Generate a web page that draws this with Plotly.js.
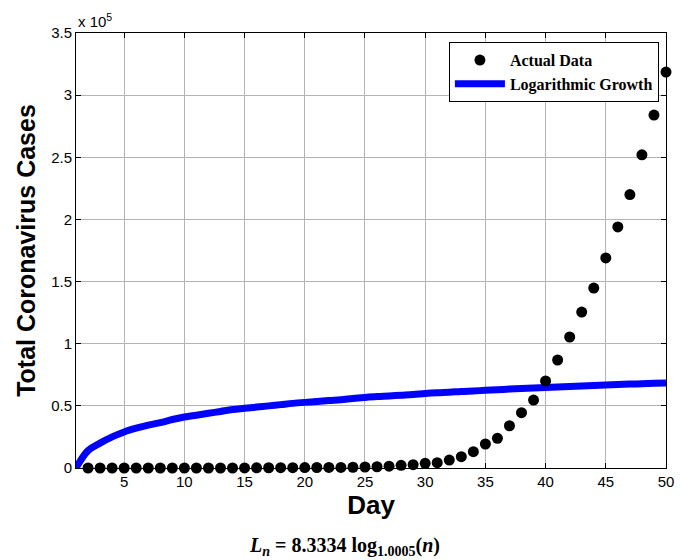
<!DOCTYPE html>
<html>
<head>
<meta charset="utf-8">
<script src="https://cdn.plot.ly/plotly-3.0.1.min.js"></script>
<style>html,body{margin:0;padding:0;background:#fff;}#chart{width:685px;height:560px;}</style>
</head>
<body>
<div id="chart"></div>
<script>
// Actual data (days 2..50)
const actualDays = [2,3,4,5,6,7,8,9,10,11,12,13,14,15,16,17,18,19,20,21,22,23,24,25,26,27,28,29,30,31,32,33,34,35,36,37,38,39,40,41,42,43,44,45,46,47,48,49,50];
const actualCases = [0,0,0,0,0,0,0,0,0,0,0,0,0,100,150,200,250,300,350,400,450,500,600,800,1000,1500,2200,2700,3800,4300,6400,9100,13100,19300,23900,34000,44500,54700,70000,86900,105400,125500,144800,169000,194000,220000,252000,284000,318600];
// Logarithmic growth curve (days 1..50)
const logDays = [1,2,3,4,5,6,7,8,9,10,11,12,13,14,15,16,17,18,19,20,21,22,23,24,25,26,27,28,29,30,31,32,33,34,35,36,37,38,39,40,41,42,43,44,45,46,47,48,49,50];
const logCases = [0,14000,20000,25000,29000,32000,34500,36500,39000,41000,42500,44000,45500,47000,48000,49000,50000,51000,52000,52800,53500,54300,55000,56000,56800,57500,58000,58600,59200,60000,60600,61000,61600,62000,62500,63000,63500,64000,64400,64800,65200,65600,66000,66400,66800,67200,67500,67800,68100,68400];
const xTicks = [5,10,15,20,25,30,35,40,45,50];
const yTickVals = [0,50000,100000,150000,200000,250000,300000,350000];
const yTickText = ['0','0.5','1','1.5','2','2.5','3','3.5'];

const traces = [
  {x: logDays, y: logCases, mode: 'lines', name: 'Logarithmic Growth',
   line: {color: '#0000ff', width: 7, shape: 'spline'}, legendrank: 2},
  {x: actualDays, y: actualCases, mode: 'markers', name: 'Actual Data',
   marker: {color: '#000000', size: 11, symbol: 'circle'}, cliponaxis: false, legendrank: 1}
];

const layout = {
  width: 685, height: 560,
  margin: {l: 76, r: 19, t: 33, b: 92},
  paper_bgcolor: '#ffffff', plot_bgcolor: '#ffffff',
  font: {family: 'Liberation Sans, Arial, sans-serif', size: 14, color: '#000'},
  showlegend: true,
  legend: {x: 0.988, y: 0.979, xanchor: 'right', yanchor: 'top',
    bgcolor: '#ffffff', bordercolor: '#000000', borderwidth: 1,
    itemwidth: 50,
    font: {family: 'Liberation Serif, Times New Roman, serif', size: 16, weight: 'bold', color: '#000'},
    tracegroupgap: 0},
  xaxis: {range: [1, 50], tickvals: xTicks, ticks: 'inside', ticklen: 5, tickcolor: '#000',
    showline: true, linecolor: '#000', linewidth: 1, mirror: 'allticks',
    showgrid: true, gridcolor: '#b4b4b4', gridwidth: 1, zeroline: false,
    tickfont: {size: 15},
    title: {text: 'Day', font: {size: 26, weight: 'bold'}, standoff: 6}},
  yaxis: {range: [0, 350000], tickvals: yTickVals, ticktext: yTickText, ticks: 'inside', ticklen: 5, tickcolor: '#000',
    showline: true, linecolor: '#000', linewidth: 1, mirror: 'allticks',
    showgrid: true, gridcolor: '#b4b4b4', gridwidth: 1, zeroline: false,
    tickfont: {size: 15},
    title: {text: 'Total Coronavirus Cases', font: {size: 25, weight: 'bold'}, standoff: 8}},
  annotations: [
    {xref: 'paper', yref: 'paper', x: 0, y: 1, xanchor: 'left', yanchor: 'bottom', yshift: 1,
     showarrow: false, text: 'x 10<sup>5</sup>', font: {size: 15}},
    {xref: 'paper', yref: 'paper', x: 0.5, y: 0, xanchor: 'center', yanchor: 'middle', yshift: -78, xshift: -27,
     showarrow: false,
     text: '<b><i>L</i><sub><i>n</i></sub> = 8.3334 log<sub>1.0005</sub>(<i>n</i>)</b>',
     font: {family: 'Liberation Serif, Times New Roman, serif', size: 20}}
  ]
};

Plotly.newPlot('chart', traces, layout, {displayModeBar: false, staticPlot: true});
</script>
</body>
</html>
